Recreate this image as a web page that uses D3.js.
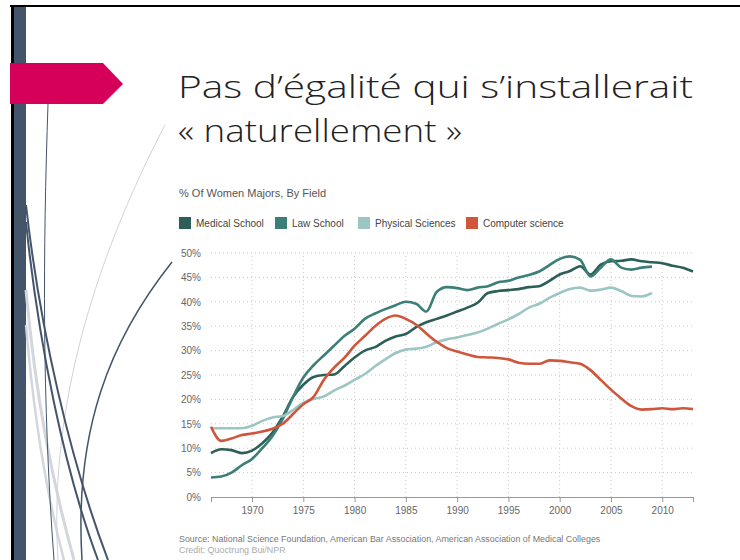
<!DOCTYPE html>
<html>
<head>
<meta charset="utf-8">
<script src="https://cdn.jsdelivr.net/npm/d3@7"></script>
<style>
  html, body { margin: 0; padding: 0; background: #fff; }
  svg { display: block; }
  text { font-family: "Liberation Sans", Arial, sans-serif; }
</style>
</head>
<body>
<svg id="chart"></svg>
<script>
// data
const years = d3.range(1966, 2014);
const medical = [9.0, 9.8, 9.6, 9.0, 9.5, 11.0, 13.2, 16.5, 20.5, 23.0, 24.6, 25.0, 25.1, 26.8, 28.6, 30.0,
  30.7, 32.0, 32.9, 33.4, 34.8, 35.8, 36.5, 37.2, 38.0, 38.8, 39.8, 41.8, 42.2, 42.4, 42.6, 43.0, 43.2, 44.3,
  45.6, 46.3, 47.3, 45.6, 47.6, 48.3, 48.4, 48.7, 48.3, 48.1, 47.9, 47.4, 47.0, 46.2];
const law = [4.0, 4.2, 5.0, 6.5, 7.8, 10.0, 12.5, 16.0, 20.5, 24.5, 27.0, 29.0, 31.0, 33.0, 34.5, 36.5,
  37.6, 38.5, 39.3, 40.0, 39.6, 38.0, 42.0, 43.0, 42.8, 42.4, 42.9, 43.2, 44.0, 44.3, 45.0, 45.5, 46.2, 47.5,
  48.8, 49.3, 48.6, 45.2, 47.0, 48.7, 47.0, 46.6, 47.0, 47.2];
const physical = [14.1, 14.1, 14.1, 14.1, 14.6, 15.6, 16.3, 16.6, 17.8, 19.3, 20.1, 20.6, 21.8, 22.8, 24.0, 25.2,
  26.8, 28.2, 29.5, 30.2, 30.4, 30.8, 31.7, 32.3, 32.7, 33.2, 33.7, 34.5, 35.5, 36.4, 37.5, 38.8, 39.6, 40.8,
  41.8, 42.6, 42.9, 42.3, 42.5, 42.9, 42.2, 41.2, 41.1, 41.8];
const computer = [14.4, 11.5, 12.0, 12.7, 13.0, 13.4, 14.0, 15.0, 17.0, 19.0, 20.5, 24.0, 26.5, 28.5, 31.0, 33.0,
  35.0, 36.5, 37.2, 36.5, 35.3, 33.5, 31.8, 30.5, 29.8, 29.2, 28.7, 28.6, 28.5, 28.2, 27.5, 27.3, 27.3, 28.0,
  27.9, 27.6, 27.3, 26.0, 24.0, 22.0, 20.2, 18.6, 17.9, 18.0, 18.2, 18.0, 18.2, 18.0];
const seriesNames = ["Medical School", "Law School", "Physical Sciences", "Computer science"];
const seriesValues = [medical, law, physical, computer];
const colors = ["#2c5f57", "#3b7f78", "#9bc6c3", "#cf553b"];
const yTicks = d3.range(0, 55, 5);
const xTicks = d3.range(1970, 2015, 5);

const W = 740, H = 560;
const svg = d3.select("#chart").attr("width", W).attr("height", H);

// slide decoration
svg.append("rect").attr("x", 10).attr("y", 5).attr("width", W - 10).attr("height", 2).attr("fill", "#000");
svg.append("rect").attr("x", 11).attr("y", 5).attr("width", 3).attr("height", H).attr("fill", "#000");
svg.append("rect").attr("x", 14).attr("y", 7).attr("width", 12).attr("height", H).attr("fill", "#44546a");

const deco = svg.append("g").attr("fill", "none");
deco.append("path").attr("d", "M26,290 C36,400 52,480 74,560").attr("stroke", "#d3d7dd").attr("stroke-width", 3);
deco.append("path").attr("d", "M26,325 C34,420 48,500 64,560").attr("stroke", "#d3d7dd").attr("stroke-width", 2.5);
deco.append("path").attr("d", "M165,125 C100,250 48,400 58,560").attr("stroke", "#cfd3da").attr("stroke-width", 1);
deco.append("path").attr("d", "M48,104 C43,250 42,400 54,560").attr("stroke", "#44546a").attr("stroke-width", 1);
deco.append("path").attr("d", "M26,205 C40,330 70,460 108,560").attr("stroke", "#44546a").attr("stroke-width", 2);
deco.append("path").attr("d", "M26,222 C38,340 64,470 98,560").attr("stroke", "#44546a").attr("stroke-width", 2);
deco.append("path").attr("d", "M172,262 C110,340 74,430 82,560").attr("stroke", "#44546a").attr("stroke-width", 1.5);

svg.append("path")
  .attr("d", "M10,63 L103,63 L123,84 L103,104 L10,104 Z")
  .attr("fill", "#d6005b");

const title = svg.append("g").attr("fill", "#222");
title.append("text").attr("x", 178).attr("y", 98)
  .style("font-family", "'Open Sans', 'Lato', sans-serif").style("font-size", "32px").style("font-weight", 300)
  .attr("textLength", 515).attr("lengthAdjust", "spacingAndGlyphs")
  .text("Pas d\u2019égalité qui s\u2019installerait");
title.append("text").attr("x", 178).attr("y", 142)
  .style("font-family", "'Open Sans', 'Lato', sans-serif").style("font-size", "32px").style("font-weight", 300)
  .attr("textLength", 284).attr("lengthAdjust", "spacingAndGlyphs")
  .text("« naturellement »");

// chart
const x = d3.scaleLinear().domain([1966, 2013]).range([211, 693]);
const y = d3.scaleLinear().domain([0, 50]).range([497, 253]);

svg.append("text").attr("x", 179).attr("y", 197)
  .attr("font-size", 11).attr("fill", "#555")
  .text("% Of Women Majors, By Field");

// legend
const legendX = [179, 275, 358, 466];
const legend = svg.append("g").selectAll("g")
  .data(seriesNames)
  .join("g")
  .attr("transform", (d, i) => `translate(${legendX[i]},217)`);
legend.append("rect").attr("width", 12).attr("height", 12).attr("fill", (d, i) => colors[i]);
legend.append("text").attr("x", 17).attr("y", 10)
  .attr("font-size", 10).attr("fill", "#444")
  .text(d => d);

// grid
svg.append("g").selectAll("line")
  .data(yTicks.filter(d => d > 0))
  .join("line")
  .attr("x1", x(1966)).attr("x2", x(2013))
  .attr("y1", d => y(d)).attr("y2", d => y(d))
  .attr("stroke", "#c8c8c8").attr("stroke-dasharray", "1,3");
svg.append("g").selectAll("line")
  .data(xTicks)
  .join("line")
  .attr("x1", d => x(d)).attr("x2", d => x(d))
  .attr("y1", y(0)).attr("y2", y(50))
  .attr("stroke", "#c8c8c8").attr("stroke-dasharray", "1,3");

// axes
const yAxis = svg.append("g")
  .attr("transform", "translate(" + 204 + ",0)")
  .call(d3.axisLeft(y).tickValues(yTicks).tickSize(0).tickFormat(d => d + "%"));
yAxis.select(".domain").remove();
yAxis.selectAll("text").attr("font-size", 10).attr("fill", "#666").attr("font-family", null);

const xAxis = svg.append("g")
  .attr("transform", "translate(0," + y(0) + ")")
  .call(d3.axisBottom(x).tickValues([1966].concat(xTicks, [2013])).tickSizeOuter(0).tickSize(5)
    .tickFormat(d => (d === 1966 || d === 2013) ? "" : d));
xAxis.select(".domain").attr("stroke", "#999");
xAxis.selectAll(".tick line").attr("stroke", "#999");
xAxis.selectAll("text").attr("font-size", 10).attr("fill", "#666").attr("font-family", null).attr("dy", "0.9em");

// lines
const line = d3.line()
  .x((d, i) => x(years[i]))
  .y(d => y(d))
  .curve(d3.curveMonotoneX);
svg.append("g").selectAll("path")
  .data(seriesValues)
  .join("path")
  .attr("d", d => line(d))
  .attr("fill", "none")
  .attr("stroke", (d, i) => colors[i])
  .attr("stroke-width", 2.6)
  .attr("stroke-linejoin", "round");

svg.append("text").attr("x", 179).attr("y", 542)
  .attr("font-size", 8.9).attr("fill", "#777")
  .text("Source: National Science Foundation, American Bar Association, American Association of Medical Colleges");
svg.append("text").attr("x", 179).attr("y", 553)
  .attr("font-size", 8.9).attr("fill", "#aaa")
  .text("Credit: Quoctrung Bui/NPR");
</script>
</body>
</html>
